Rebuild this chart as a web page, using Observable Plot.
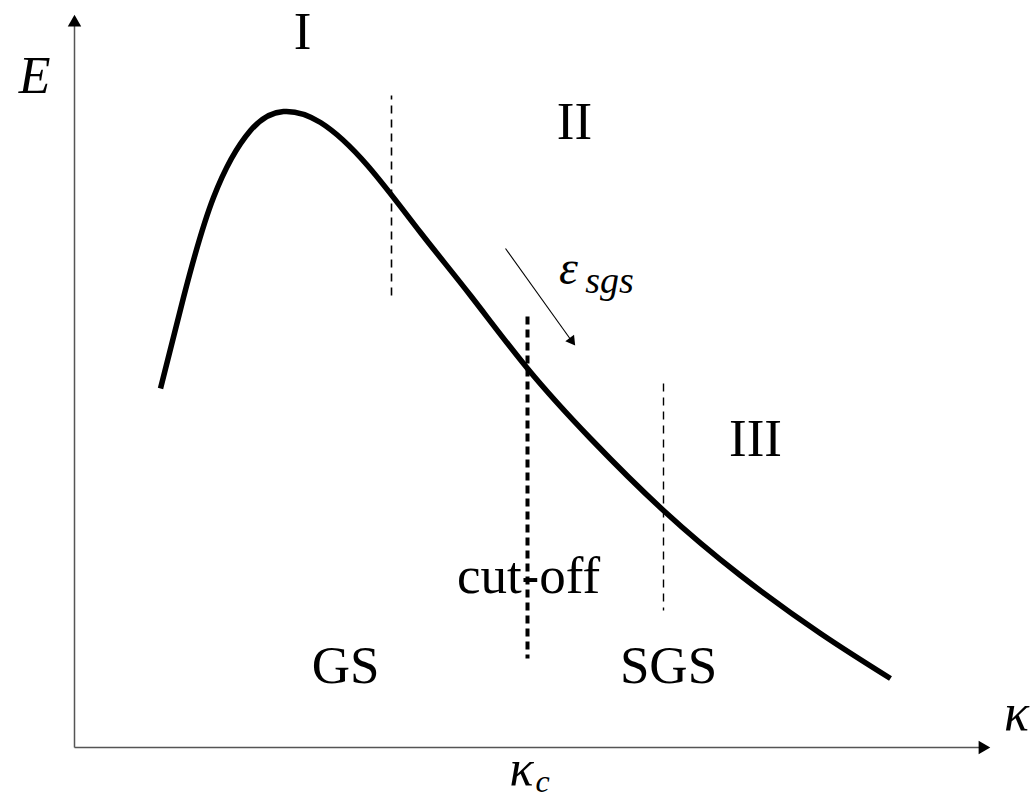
<!DOCTYPE html>
<html>
<head>
<meta charset="utf-8">
<script src="https://cdn.jsdelivr.net/npm/d3@7"></script>
<script src="https://cdn.jsdelivr.net/npm/@observablehq/plot@0.6"></script>
<style>
  html, body { margin: 0; padding: 0; background: #fff; }
  svg { display: block; }
</style>
</head>
<body>
<div id="chart"></div>
<script>
// Coordinates: k along the wavenumber axis, e along the energy axis (origin at axis corner)
const curveK = [86, 109, 139, 176, 209, 246, 293, 346, 396, 453, 516, 589, 666, 746, 816];
const curveE = [359, 450, 550, 617, 636, 625, 582, 515, 452, 379, 309, 237, 172, 114, 69];

const dashK = [317, 453, 589];
const dashE1 = [452, 431, 364];
const dashE2 = [652, 89, 137];
const dashWidth = [1.6, 4, 1.4];
const dashPattern = ["8,6", "8,5", "8,6"];

const regionLabels = ["I", "II", "III", "GS", "SGS", "cut-off"];
const regionK = [228, 500, 681, 271, 594, 454];
const regionE = [699, 609, 292, 65, 65, 155];

const fluxArrow = {k1: 431, e1: 499, k2: 499, e2: 404};

const axisK = [0, 908];
const axisE = [0, 725];

const curve = curveK.map((k, i) => ({k, e: curveE[i]}));
const dashes = dashK.map((k, i) => ({k, e1: dashE1[i], e2: dashE2[i], w: dashWidth[i], d: dashPattern[i]}));
const labels = regionLabels.map((t, i) => ({t, k: regionK[i], e: regionE[i]}));

const serif = "Liberation Serif, Times New Roman, serif";

const marks = [
  // axes
  Plot.link([{k1: axisK[0], e1: 0, k2: axisK[1], e2: 0}], {x1: "k1", y1: "e1", x2: "k2", y2: "e2", stroke: "#555", strokeWidth: 1.5}),
  Plot.link([{k1: 0, e1: axisE[0], k2: 0, e2: axisE[1]}], {x1: "k1", y1: "e1", x2: "k2", y2: "e2", stroke: "#555", strokeWidth: 1.5}),
  Plot.dot([{k: axisK[1], e: 0}], {x: "k", y: "e", symbol: "triangle", r: 5, fill: "black", stroke: "none", rotate: 90}),
  Plot.dot([{k: 0, e: axisE[1]}], {x: "k", y: "e", symbol: "triangle", r: 5, fill: "black", stroke: "none", rotate: 0}),
  // dashed lines
  ...dashes.map(d => Plot.link([d], {x1: "k", y1: "e1", x2: "k", y2: "e2", stroke: "black", strokeWidth: d.w, strokeDasharray: d.d})),
  // spectrum curve
  Plot.line(curve, {x: "k", y: "e", curve: "natural", stroke: "black", strokeWidth: 5.5, strokeLinecap: "butt"}),
  // energy flux arrow
  Plot.link([fluxArrow], {x1: "k1", y1: "e1", x2: "k2", y2: "e2", stroke: "black", strokeWidth: 1.1}),
  Plot.dot([{k: fluxArrow.k2 - 2, e: fluxArrow.e2 + 3}], {x: "k", y: "e", symbol: "triangle", r: 4, fill: "black", stroke: "none", rotate: 144}),
  // region labels
  Plot.text(labels, {x: "k", y: "e", text: "t", fontSize: 53, fontFamily: serif, textAnchor: "middle", lineAnchor: "bottom", fill: "black"}),
  // axis labels
  Plot.text([{t: "E", k: -40, e: 655}], {x: "k", y: "e", text: "t", fontSize: 52, fontFamily: serif, fontStyle: "italic", textAnchor: "middle", lineAnchor: "bottom", fill: "black"}),
  Plot.text([{t: "κ", k: 942, e: 18}], {x: "k", y: "e", text: "t", fontSize: 52, fontFamily: serif, fontStyle: "italic", textAnchor: "middle", lineAnchor: "bottom", fill: "black"}),
  Plot.text([{t: "κ", k: 447, e: -37}], {x: "k", y: "e", text: "t", fontSize: 50, fontFamily: serif, fontStyle: "italic", textAnchor: "middle", lineAnchor: "bottom", fill: "black"}),
  Plot.text([{t: "c", k: 468, e: -44}], {x: "k", y: "e", text: "t", fontSize: 32, fontFamily: serif, fontStyle: "italic", textAnchor: "middle", lineAnchor: "bottom", fill: "black"}),
  Plot.text([{t: "ε", k: 494, e: 464}], {x: "k", y: "e", text: "t", fontSize: 48, fontFamily: serif, fontStyle: "italic", textAnchor: "middle", lineAnchor: "bottom", fill: "black"}),
  Plot.text([{t: "sgs", k: 535, e: 455}], {x: "k", y: "e", text: "t", fontSize: 38, fontFamily: serif, fontStyle: "italic", textAnchor: "middle", lineAnchor: "bottom", fill: "black"})
];

const chart = Plot.plot({
  width: 1036,
  height: 803,
  marginTop: 0, marginRight: 0, marginBottom: 0, marginLeft: 0,
  x: {domain: [-74, 962], axis: null},
  y: {domain: [-56, 747], axis: null},
  marks
});
document.getElementById("chart").appendChild(chart);
</script>
</body>
</html>
